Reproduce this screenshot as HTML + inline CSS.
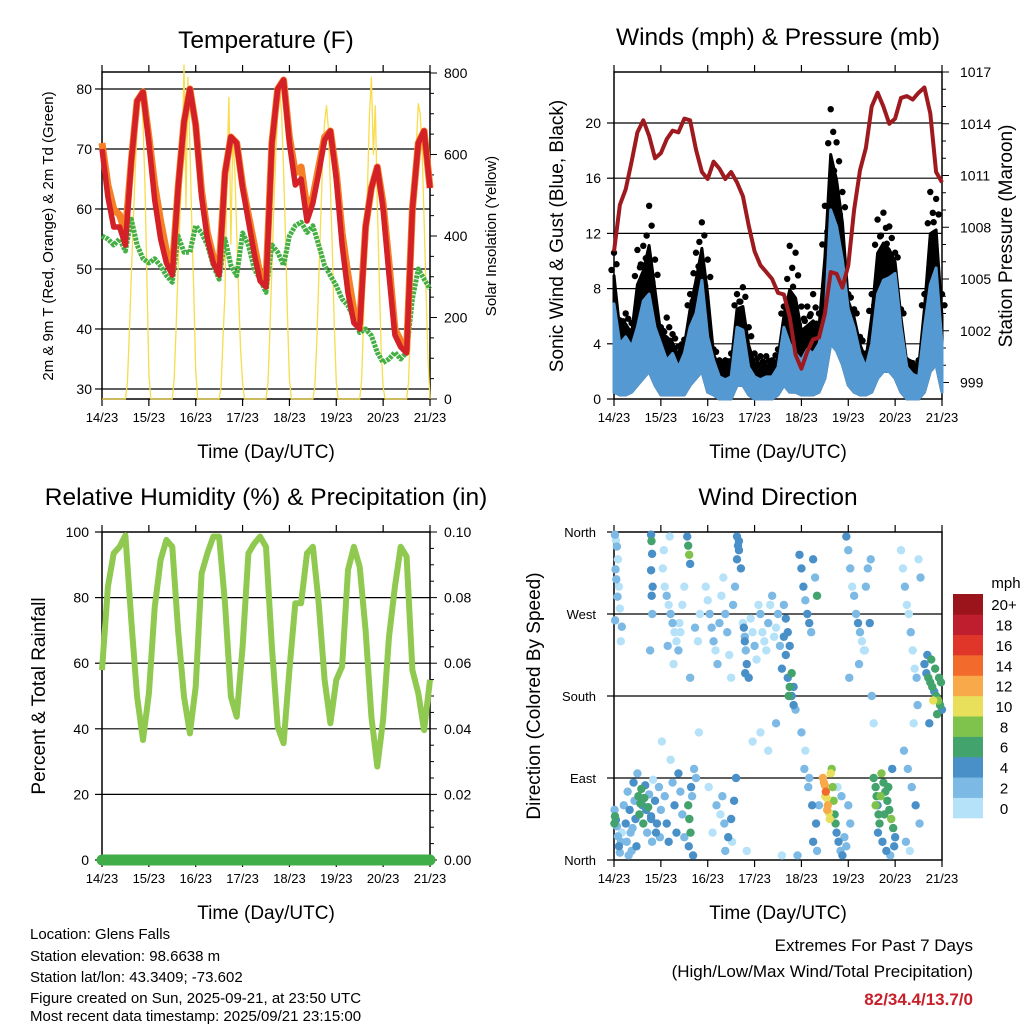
<!DOCTYPE html>
<html><head><meta charset="utf-8"><style>
html,body{margin:0;padding:0;background:#fff;}
svg{display:block;font-family:"Liberation Sans",Arial,sans-serif;}
</style></head><body>
<svg id="chart" width="1024" height="1024" viewBox="0 0 1024 1024" xmlns="http://www.w3.org/2000/svg">
<g id="content"></g>
<g font-size="15" fill="#000">
<text x="30" y="939">Location: Glens Falls</text>
<text x="30" y="961">Station elevation: 98.6638 m</text>
<text x="30" y="982">Station lat/lon: 43.3409; -73.602</text>
<text x="30" y="1003">Figure created on Sun, 2025-09-21, at 23:50 UTC</text>
<text x="30" y="1024" dy="-3">Most recent data timestamp: 2025/09/21 23:15:00</text>
</g>
<g text-anchor="end">
<text x="973" y="951" font-size="17">Extremes For Past 7 Days</text>
<text x="973" y="977" font-size="17">(High/Low/Max Wind/Total Precipitation)</text>
<text x="973" y="1005" font-size="17" font-weight="bold" fill="#c8202a">82/34.4/13.7/0</text>
</g>
</svg>
<script>
// ---------- data ----------
const xTickLabels = ["14/23","15/23","16/23","17/23","18/23","19/23","20/23","21/23"];
const hours3 = [];
for (let k = 0; k <= 56; k++) hours3.push(k * 3);
const tempRed = [70,62,57,57,54,68,78,79.5,71,61.5,55,51,49,63.5,74.5,80,74,62,55,51,49,66,72,71,63.5,58,52.5,48,47,71,80,81.5,71,64,65,58,61,66,71.5,73,65,54,46,41,40,57,63.5,67,60,49,39,37,36,60,71,73,63.5];
const tempOrange = [71,64,60,59,56,68,78,79.5,72,64,58,53,50,63.5,74.5,80,74,63,56,52,50,66,72,71,64,59,54,49,48,71,80,81.5,72,66,67,60,62,67,72,73,66,56,49,43,41,57,63.5,67,61,51,40,38,36.5,60,71,73,63.5];
const dewGreen = [55.5,55,54,55,53,58.3,54,51.7,51,51.7,50.5,48.9,47.8,55.5,52.8,52.8,57.2,56,54,50.6,48.3,55,50.6,48.9,56,54,50,48.3,46.1,54,52.8,50.6,55.5,57.2,57.8,56.1,57.2,54,50.6,48.9,47.2,45,43.9,41.7,39.4,40,38.9,36.1,34.4,35,36.1,35,36.1,45,50,48.3,46.7];
const solar = [
0,0,0,0,0,0,0,0,0,0,0,0,0,40,160,300,430,560,660,740,750,680,520,300,
60,0,0,0,0,0,0,0,0,0,0,0,0,50,180,320,460,560,820,470,790,620,430,260,
70,0,0,0,0,0,0,0,0,0,0,0,0,30,150,260,560,740,380,640,560,410,250,120,
40,0,0,0,0,0,0,0,0,0,0,0,0,40,170,320,470,600,700,760,700,560,400,200,
50,0,0,0,0,0,0,0,0,0,0,0,0,30,140,290,440,580,680,720,660,520,360,180,
40,0,0,0,0,0,0,0,0,0,0,0,0,50,200,380,520,700,790,600,720,480,300,120,
30,0,0,0,0,0,0,0,0,0,0,0,0,40,180,330,480,620,725,700,600,440,260,100,
0];
const windHigh = [6.9,4,4.5,3.8,5.2,7.1,7.6,5.2,4,2.8,3.3,2.3,3.3,5.2,6.2,8.6,4.5,2.8,1.6,1.4,1.6,5.2,5,2.3,1.6,1.4,1.6,1.6,2.3,5.2,4,3.3,2.8,3.6,3.3,4,5.7,13.7,12.5,10.1,6.5,5.2,3.3,2.3,4,7.6,8.6,8.8,9.1,5.2,2.3,1.8,1.6,5.2,8.3,9.5,4];
const windLow = [0.5,0.3,0.3,0.5,1,1.5,2,1,0.3,0.3,0.3,0.3,0.3,1,1.5,2,0.5,0.3,0,0,0,1,1,0.3,0,0,0,0,0.3,1,0.5,0.5,0.3,0.3,0.3,0.5,1.5,4,3.5,2.5,1,0.5,0.3,0.3,0.5,1.5,2,2,1.5,0.5,0,0,0,0.5,2,2.5,0.5];
const gust = [10.6,5.7,6.2,5.5,10.8,11.1,14,10.1,5.2,5.9,4.7,3.8,4.3,7.6,10.6,12.8,10.1,3.6,2.8,2.8,3.3,7.6,8.1,5.2,3.3,3.1,3.1,2.8,3.6,6.7,11.1,10.6,6.7,6.7,7.6,6.2,14,21,18.6,15,7.6,6.5,4.5,3.3,7.6,13,13.5,12.5,10.6,6.5,2.8,2.6,2.8,7.6,15,14.5,7.6];
const pressure = [1006.6,1009.3,1010.2,1011.8,1013.5,1014.2,1013.3,1012.0,1012.3,1013.1,1013.6,1013.5,1014.3,1014.2,1012.5,1011.2,1010.8,1011.8,1011.4,1010.8,1011.2,1010.6,1009.8,1008.1,1006.6,1005.8,1005.4,1005.0,1004.2,1004.1,1002.8,1000.6,999.8,1000.8,1001.5,1001.6,1003.0,1005.4,1005.3,1004.5,1005.8,1009.0,1011.3,1012.6,1015.0,1015.8,1015.0,1014.0,1014.3,1015.5,1015.6,1015.4,1015.8,1016.1,1014.6,1011.2,1010.6];
const rh = [57.9,83.3,93.5,95.5,99,73,49.8,36.6,50.8,77,91.5,97.6,95.5,70,49.8,38.6,52.8,87.4,93.5,98.6,98.6,78.3,49.8,43.7,65,93.5,96.5,98.6,95.5,65,40.6,35.6,57.9,78.3,78.3,93.5,95.5,78.3,54.9,41.7,54.9,59,88.4,95.5,89.4,70,43.7,28.5,42.7,68,83.3,95.5,92.5,57.9,50.8,39.6,54.9];
const precip = [0,0,0,0,0,0,0,0];
const precipHours = [0,24,48,72,96,120,144,168];
const dirTime = [
0.5,1,1.5,2,0.8,1.2,2.5,1.8,3,0.6,4,3.5,
0.3,0.5,1,1.5,2,2.5,3,0.2,4,3.5,
5,6,6.5,7,8,8.5,9,10,10.5,11,12,12.5,13,14,14.5,15,16,16.5,17,18,19,19.5,20,21,22,23,24,7.5,9.5,11.5,13.5,15.5,17.5,19,21.5,23.5,
19,19.2,19.5,19,19.8,19.3,19.6,18.5,
25,26,27,28,29,30,31,32,33,34,35,36,27.5,30.5,33.5,25.5,28.5,
26,27,28,30,31,32,33,34,35,36,29,24.5,
37.5,38,38.5,39,39.5,40,38,38.6,39.2,38.3,40.5,41,42,43,44,39,41.5,43.5,
47,48,49,50,51,52,53,54,55,56,57,58,59,60,61,62,63,64,65,48.5,52.5,56.5,60.5,63,63.5,64,62.5,61.5,60,58.5,57,55.5,54.5,50.5,
66,67,67.5,68,69,70,71,72,73,74,75,76,77,78,79,80,81,82,83,84,85,86,87,88,89,90,91,92,93,66.5,67,67.2,87,88,89,90,91,92,89.5,75,79,83,71,68,86,94,
95,96,97,98,99,100,101,102,103,104,97.5,99.5,101.5,103.5,96,98,100,102,104,105,
107,108,108.5,109,109.5,110,110.5,111,107.5,108.2,109.2,111.5,112,112.5,113,113.5,114,115,116,117,118,119,120,121,114.5,116.5,
119,120,121,122,123,124,125,126,127,128,129,130,131,132,133,120.5,125.5,128.5,131.5,
133,134,134.5,135,135.5,136,137,138,139,140,141,142,143,144,135.2,137.5,139.5,141.5,143.5,134,136.5,138.5,140.5,142.5,
147,148,149,150,151,152,153,154,155,156,157,148.5,150.5,152.5,154.5,156.5,149.5,151.5,153.5,155.5,
159,160,161,162,163,164,165,166,167,168,160.5,162.5,164.5,166.5,163.5,165.5,161.5,167.5];
const dirDeg = [
357,351,344,330,319,308,300,289,276,263,256,240,
55,48,44,37,26,15,8,40,30,20,
60,40,20,75,55,30,10,85,65,45,95,70,50,78,60,40,82,55,30,72,48,20,88,65,40,80,55,5,35,15,62,68,58,45,30,25,
357,350,336,318,300,290,270,230,
320,300,290,280,270,260,250,240,230,250,280,300,235,215,260,340,355,
70,40,20,85,60,30,95,75,50,25,110,130,
355,345,335,325,80,70,60,45,30,15,5,100,90,240,270,200,255,140,
300,285,270,255,240,230,215,260,290,310,270,250,225,200,280,300,330,350,320,80,60,40,20,355,345,340,90,65,45,25,10,70,50,30,
260,245,230,215,200,265,250,235,220,280,270,250,240,230,260,280,290,245,255,270,235,210,245,225,200,190,180,170,165,255,240,205,280,265,250,235,205,190,180,140,120,150,130,10,5,5,
335,320,300,285,270,260,250,330,310,290,100,80,60,40,140,120,90,20,10,60,
90,82,75,68,60,52,45,95,85,70,55,100,80,65,50,40,30,20,10,5,25,15,60,40,80,70,
355,340,320,300,290,270,260,250,240,230,300,320,260,180,150,200,215,230,330,
90,80,70,60,50,40,95,85,75,65,55,45,35,25,30,20,10,5,15,60,70,50,80,100,
340,320,300,280,270,250,230,210,200,330,310,120,100,80,60,40,20,10,150,170,
215,205,200,195,190,185,180,175,170,165,225,220,210,200,175,160,150,195];
const dirSpeed = [
2,1,3,1,2,3,1,2,1,3,2,1,
3,6,4,2,3,4,2,7,1,3,
3,4,2,3,5,3,2,4,3,4,3,6,7,6,5,6,5,4,3,2,4,3,1,5,4,2,3,2,3,4,6,7,6,5,4,3,
5,7,5,4,5,4,3,3,
1,1,2,1,2,3,1,1,2,1,1,1,2,1,1,1,1,
3,4,5,3,4,5,4,3,2,3,1,1,
4,7,8,5,4,3,6,7,6,5,4,3,2,1,1,3,2,1,
1,1,2,2,3,1,2,3,1,1,2,3,1,1,2,2,4,4,4,1,2,3,1,4,4,5,4,5,4,4,3,2,1,1,
1,2,3,4,5,1,1,2,1,1,2,1,1,1,2,1,2,1,1,2,3,4,4,5,5,6,5,4,3,5,5,5,3,4,5,5,6,5,7,1,1,2,1,1,1,2,
4,5,4,3,4,5,3,4,3,6,2,3,4,5,2,1,3,4,2,3,
12,13,14,11,12,10,10,10,12,11,13,8,9,8,7,6,4,4,3,4,3,2,2,3,1,2,
4,2,3,1,2,3,4,2,1,1,2,3,4,2,1,2,3,1,3,
6,7,6,5,7,6,8,7,7,6,7,8,6,5,4,5,4,3,4,8,8,7,6,5,
1,1,2,1,1,2,1,1,2,1,3,2,3,3,4,2,3,1,1,2,
4,5,6,7,6,5,7,8,6,5,4,6,7,6,10,7,5,6];
const speedBins = ["0","2","4","6","8","10","12","14","16","18","20+"];
const speedColors = ["#b5e2f8","#7cb9e4","#4a90c8","#43a36c","#80c34c","#e8e05a","#f8a94a","#f26a2c","#e03529","#be1e2d","#9b141b"];

// ---------- helpers ----------
const NS = "http://www.w3.org/2000/svg";
const root = document.getElementById("content");
function mk(tag, attrs, parent) {
  const e = document.createElementNS(NS, tag);
  for (const k in attrs) e.setAttribute(k, attrs[k]);
  (parent || root).appendChild(e);
  return e;
}
function txt(s, attrs, parent) { const e = mk("text", attrs, parent); e.textContent = s; return e; }
function line(x1,y1,x2,y2,stroke,w,parent){ return mk("line",{x1,y1,x2,y2,stroke,"stroke-width":w},parent); }
function pts(xs, ys) { return xs.map((x,i)=>x.toFixed(1)+","+ys[i].toFixed(1)).join(" "); }

const PW = 328, T = 168;
function xAt(left, t) { return left + t * PW / T; }

function frame(name, left, top, bottom) {
  const g = mk("g", {});
  
  
  mk("rect", {x:left, y:top, width:PW, height:bottom-top, fill:"none", stroke:"#000", "stroke-width":1.5}, g);
  for (let i = 0; i < xTickLabels.length; i++) {
    const x = xAt(left, i*24);
    line(x, bottom, x, bottom+7, "#000", 1.2, g);
    line(x, top, x, top-7, "#000", 1.2, g);
    const lab = txt(xTickLabels[i], {x:x, y:bottom+23, "font-size":13, "text-anchor":"middle"}, g);
    
    
  }
  const xt = txt("Time (Day/UTC)", {x:left+PW/2, y:bottom+59, "font-size":19, "text-anchor":"middle"}, g);
  
  
  return g;
}
function title(s, x, y, name) {
  const e = txt(s, {x, y, "font-size":24.5, "text-anchor":"middle"});
  
  
}
function vtitle(s, x, y, size, name) {
  const e = txt(s, {x:0, y:0, "font-size":size, "text-anchor":"middle", transform:`translate(${x},${y}) rotate(-90)`});
  
  
}

// ================= Panel 1: Temperature =================
(function(){
  const L = 102, TOP = 72, B = 399;
  const yT = v => 399 - (v - 28.33) * 6;
  const yS = v => 399 - v * 326 / 800;
  const g = frame("temperature-panel", L, TOP, B);
  [30,40,50,60,70,80].forEach(v=>{
    line(L, yT(v), L+PW, yT(v), "#000", 1.2, g);
    line(L-7, yT(v), L, yT(v), "#000", 1.2, g);
    const t = txt(String(v), {x:L-10, y:yT(v)+5, "font-size":14, "text-anchor":"end"}, g);
    
    
  });
  for (let v = 0; v <= 800; v += 50) line(L+PW, yS(v), L+PW+(v%200===0?7:4), yS(v), "#000", 1, g);
  [0,200,400,600,800].forEach(v=>{
    const t = txt(String(v), {x:L+PW+14, y:yS(v)+5, "font-size":14}, g);
    
    
  });
  const sx = solar.map((v,i)=>xAt(L,i)), sy = solar.map(yS);
  const sol = mk("polyline", {points:pts(sx,sy), fill:"none", stroke:"#f7dc4b", "stroke-width":1.3, "stroke-linejoin":"round"}, g);
  
  
  const hx = hours3.map(t=>xAt(L,t));
  const dew = mk("polyline", {points:pts(hx, dewGreen.map(yT)), fill:"none", stroke:"#44b044", "stroke-width":5, "stroke-dasharray":"3 1", "stroke-linejoin":"round"}, g);
  
  
  const org = mk("polyline", {points:pts(hx, tempOrange.map(yT)), fill:"none", stroke:"#f58025", "stroke-width":7, "stroke-linejoin":"round"}, g);
  
  
  const red = mk("polyline", {points:pts(hx, tempRed.map(yT)), fill:"none", stroke:"#d42027", "stroke-width":5.5, "stroke-linejoin":"round"}, g);
  
  
  title("Temperature (F)", 266, 48, "temperature-title");
  vtitle("2m & 9m T (Red, Orange) & 2m Td (Green)", 53, 236, 15, "temperature-y-title");
  vtitle("Solar Insolation (Yellow)", 496, 236, 15, "solar-y-title");
})();

// ================= Panel 2: Winds =================
(function(){
  const L = 614, TOP = 72, B = 399;
  const yW = v => 399 - v * 13.8;
  const yP = p => 382.5 - (p - 999) * 17.25;
  const g = frame("winds-panel", L, TOP, B);
  [0,4,8,12,16,20].forEach(v=>{
    if (v>0) line(L, yW(v), L+PW, yW(v), "#000", 1.2, g);
    line(L-7, yW(v), L, yW(v), "#000", 1.2, g);
    const t = txt(String(v), {x:L-13, y:yW(v)+5, "font-size":14, "text-anchor":"end"}, g);
    
    
  });
  for (let p = 999; p <= 1017; p++) line(L+PW, yP(p), L+PW+((p-999)%3===0?7:4), yP(p), "#000", 1, g);
  [999,1002,1005,1008,1011,1014,1017].forEach(p=>{
    const t = txt(String(p), {x:L+PW+18, y:yP(p)+5, "font-size":14}, g);
    
    
  });
  const hx = hours3.map(t=>xAt(L,t));
  const mid = gust.map((v,i)=>windHigh[i] + (v-windHigh[i])*0.55);
  const gb = mk("polygon", {points:pts(hx.concat(hx.slice().reverse()), mid.map(yW).concat(windLow.slice().reverse().map(yW))), fill:"#000", stroke:"#000", "stroke-width":3, "stroke-linejoin":"round"}, g);
  
  
  gust.forEach((v,i)=>{
    const c = mk("circle", {cx:hx[i], cy:yW(v), r:3.2, fill:"#000"}, g);
    
    
    const c2 = mk("circle", {cx:hx[i]+2.5, cy:yW((v+mid[i])/2), r:3.2, fill:"#000"}, g);
    
    
    const c3 = mk("circle", {cx:hx[i]-2.5, cy:yW((v+3*mid[i])/4), r:3.2, fill:"#000"}, g);
    
    
  });
  const wb = mk("polygon", {points:pts(hx.concat(hx.slice().reverse()), windHigh.map(yW).concat(windLow.slice().reverse().map(yW))), fill:"#5599d2", stroke:"#5599d2", "stroke-width":3, "stroke-linejoin":"round"}, g);
  
  
  const pl = mk("polyline", {points:pts(hx, pressure.map(yP)), fill:"none", stroke:"#9e1a1f", "stroke-width":4, "stroke-linejoin":"round"}, g);
  
  
  title("Winds (mph) & Pressure (mb)", 778, 45, "winds-title");
  vtitle("Sonic Wind & Gust (Blue, Black)", 563, 236, 19, "wind-y-title");
  vtitle("Station Pressure (Maroon)", 1012, 236, 19, "pressure-y-title");
})();

// ================= Panel 3: RH =================
(function(){
  const L = 102, TOP = 532, B = 860;
  const yR = v => 860 - v * 3.28;
  const g = frame("humidity-panel", L, TOP, B);
  [0,20,40,60,80,100].forEach(v=>{
    if (v>0 && v<100) line(L, yR(v), L+PW, yR(v), "#000", 1.2, g);
    line(L-7, yR(v), L, yR(v), "#000", 1.2, g);
    const t = txt(String(v), {x:L-13, y:yR(v)+5, "font-size":14, "text-anchor":"end"}, g);
    
    
  });
  for (let i = 0; i <= 20; i++) line(L+PW, yR(i*5), L+PW+(i%4===0?7:4), yR(i*5), "#000", 1, g);
  ["0.00","0.02","0.04","0.06","0.08","0.10"].forEach((s,i)=>{
    const t = txt(s, {x:L+PW+14, y:yR(i*20)+5, "font-size":14}, g);
    
    
  });
  const hx = hours3.map(t=>xAt(L,t));
  const rl = mk("polyline", {points:pts(hx, rh.map(yR)), fill:"none", stroke:"#8fc94f", "stroke-width":6, "stroke-linejoin":"round"}, g);
  
  
  const pr = mk("polyline", {points:pts(precipHours.map(t=>xAt(L,t)), precip.map(v=>yR(v*1000))), fill:"none", stroke:"#3fae49", "stroke-width":11, "stroke-linecap":"round"}, g);
  
  
  title("Relative Humidity (%) & Precipitation (in)", 266, 505, "humidity-title");
  vtitle("Percent & Total Rainfall", 45, 696, 19, "humidity-y-title");
})();

// ================= Panel 4: Wind direction =================
(function(){
  const L = 614, TOP = 532, B = 860;
  const yD = d => 860 - d * 328 / 360;
  const g = frame("wind-direction-panel", L, TOP, B);
  const dirLabels = ["North","East","South","West","North"];
  dirLabels.forEach((s,i)=>{
    const y = yD(i*90);
    if (i>0 && i<4) line(L, y, L+PW, y, "#000", 1.2, g);
    line(L-7, y, L, y, "#000", 1.2, g);
    const t = txt(s, {x:L-18, y:y+5, "font-size":13, "text-anchor":"end"}, g);
    
    
  });
  const order = dirSpeed.map((s,i)=>i).sort((a,b)=>dirSpeed[a]-dirSpeed[b]);
  order.forEach(i=>{
    const bin = Math.min(10, Math.floor(dirSpeed[i]/2));
    const c = mk("circle", {cx:xAt(L,dirTime[i]), cy:yD(dirDeg[i]), r:4.2, fill:speedColors[bin]}, g);
    
    
  });
  const cb = mk("g", {});
  
  
  const bh = 224 / 11;
  speedBins.forEach((s,i)=>{
    const y = 818 - (i+1)*bh;
    const r = mk("rect", {x:953, y:y, width:30, height:bh+0.3, fill:speedColors[i]}, cb);
    
    
    const t = txt(s, {x:1004, y:y+bh/2+6, "font-size":15, "text-anchor":"middle"}, cb);
    
    
  });
  const u = txt("mph", {x:1006, y:588, "font-size":15, "text-anchor":"middle"}, cb);
  
  
  title("Wind Direction", 778, 505, "wind-direction-title");
  vtitle("Direction (Colored By Speed)", 540, 696, 19, "direction-y-title");
})();
</script>
</body></html>
